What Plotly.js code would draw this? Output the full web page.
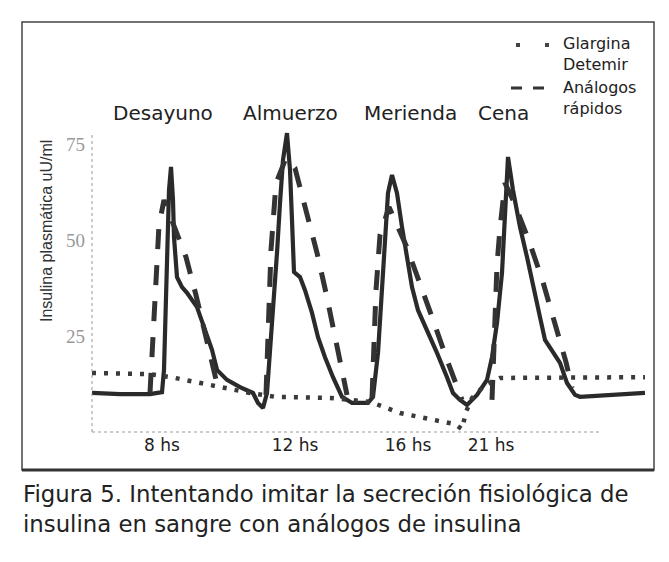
<!DOCTYPE html>
<html>
<head>
<meta charset="utf-8">
<script src="https://cdn.plot.ly/plotly-3.0.1.min.js"></script>
<style>html,body{margin:0;padding:0;background:#fff}</style>
</head>
<body>
<div id="chart" style="width:669px;height:562px"></div>
<script>
// time axis in arbitrary drawing units (the original is a schematic, not to hour scale)
var mealTimes = ['8 hs', '12 hs', '16 hs', '21 hs'];
var mealTimePos = [14, 40.6, 63.2, 79.8];
var meals = ['Desayuno', 'Almuerzo', 'Merienda', 'Cena'];
var mealLabelPos = [14.2, 39.6, 63.6, 82.2];
var yTicks = [25, 50, 75];

// physiological secretion (solid)
var physT = [0,5.6,11.6,14,14.4,14.6,14.8,15,15.4,15.8,16.2,16.4,17,18,19,21,22.6,24,25,27,29.6,32.2,33.2,34.2,35,35.6,36.2,37,37.6,38.2,39,39.6,40,40.4,41.6,42.6,44,45.2,46.6,48.2,50,52,55.2,56.2,57.2,57.8,58.6,59.2,60,61,62,63,64,65.2,67,69,71,72.2,73.6,75,77,79,80,81,82,82.6,83,83.2,84.2,85.6,87,88.2,89.6,90.6,92.2,93.6,95,96.6,97.6,103.6,110.6];
var physV = [10.4,10.1,10.1,10.6,16.4,26.8,39.7,52.7,63.1,69.1,60.5,50.9,40.5,37.9,36.4,32.7,26.8,21.6,16.4,13.8,11.9,10.4,7.8,6.5,10.4,20.8,33.8,46.8,59.7,70.9,77.9,68.3,55.3,41.8,40.5,37.1,31.2,24.9,19.7,14.5,9.4,7.8,7.8,9.4,20.8,34.5,49.4,62.3,67.0,62.3,53.5,44.9,37.9,31.9,26.8,20.8,14.5,10.4,8.6,7.3,9.9,13.8,19.7,28.6,41.6,54.5,67.5,71.7,63.1,53.5,45.7,39.0,30.1,24.2,20.8,18.2,13.0,9.9,9.4,9.9,10.4];

// rapid-acting analogues (dashed), one bolus per meal
var rapidT = [11.6,12.2,12.8,13.4,14.4,16,18.8,20.8,23,25.2,null,
              34.8,35.2,35.8,36.8,38.8,40.6,43,45,46.8,48.6,50.2,51,null,
              56,56.4,56.8,57.6,59.4,62.8,65.6,68.2,71,73.2,74,null,
              80,80.4,81,81.6,82.6,84.2,87.4,90.2,92.6,94.8,96];
var rapidV = [10.4,26.8,42.3,54.0,60.5,55.3,45.7,35.8,24.2,11.7,null,
              9.9,29.4,47.5,64.9,71.4,68.8,57.1,46.8,36.4,25.5,14.5,9.9,null,
              9.1,22.9,37.1,51.4,58.7,48.8,39.2,29.4,19.0,11.2,8.6,null,
              8.6,26.8,43.6,53.2,64.9,60.5,49.9,39.2,28.8,18.4,11.7];

// basal (Glargina / Detemir), dotted
var basalT = [0,11.6,16.6,21.6,26.6,31.6,36.6,47.6,55.6,58.6,61.6,67.6,72.6,74,74.8,76,78.6,81.6,110.6];
var basalV = [15.6,15.3,14.3,13.0,11.7,10.4,9.4,9.1,8.1,6.8,5.2,3.6,2.3,1.0,5.5,9.1,12.5,14.3,14.5];

var traces = [
  {x: physT, y: physV, type: 'scatter', mode: 'lines', name: 'Secreción fisiológica',
   line: {color: '#2a2a2a', width: 4.2}, showlegend: false, hoverinfo: 'skip'},
  {x: rapidT, y: rapidV, type: 'scatter', mode: 'lines', name: 'Análogos rápidos',
   line: {color: '#333', width: 5, dash: '20px,16px'}, connectgaps: false, showlegend: false, hoverinfo: 'skip'},
  {x: basalT, y: basalV, type: 'scatter', mode: 'lines', name: 'Glargina Detemir',
   line: {color: '#3a3a3a', width: 4.5, dash: '4px,8px'}, showlegend: false, hoverinfo: 'skip'}
];

var PL = 92, PB = 433, PW = 553, PH = 308;
function px(x) { return (x - PL) / PW; }
function py(y) { return (PB - y) / PH; }

var annotations = [];
for (var i = 0; i < meals.length; i++) {
  annotations.push({x: mealLabelPos[i], xref: 'x', y: py(113), yref: 'paper', text: meals[i],
    showarrow: false, xanchor: 'center', yanchor: 'middle',
    font: {family: 'DejaVu Sans', size: 20, color: '#222'}});
}
annotations.push({x: px(561), xref: 'paper', y: py(54.5), yref: 'paper', text: 'Glargina<br>Detemir',
  showarrow: false, xanchor: 'left', yanchor: 'middle', align: 'left',
  font: {family: 'DejaVu Sans', size: 16, color: '#222'}});
annotations.push({x: px(561), xref: 'paper', y: py(98), yref: 'paper', text: 'Análogos<br>rápidos',
  showarrow: false, xanchor: 'left', yanchor: 'middle', align: 'left',
  font: {family: 'DejaVu Sans', size: 16, color: '#222'}});
annotations.push({x: px(46), xref: 'paper', y: py(231), yref: 'paper', text: 'Insulina plasmática uU/ml',
  showarrow: false, textangle: -90, xanchor: 'center', yanchor: 'middle',
  font: {family: 'Liberation Sans', size: 16, color: '#333'}});
annotations.push({x: px(21), xref: 'paper', y: py(509), yref: 'paper',
  text: 'Figura 5. Intentando imitar la secreción fisiológica de<br>insulina en sangre con análogos de insulina',
  showarrow: false, xanchor: 'left', yanchor: 'middle', align: 'left',
  font: {family: 'DejaVu Sans', size: 22.8, color: '#222'}});

var shapes = [
  // outer frame
  {type: 'rect', xref: 'paper', yref: 'paper', x0: px(22), x1: px(654), y0: py(470), y1: py(22),
   line: {color: '#444', width: 1.5}},
  {type: 'line', xref: 'paper', yref: 'paper', x0: px(22), x1: px(654), y0: py(470), y1: py(470),
   line: {color: '#333', width: 3}},
  // dotted axes
  {type: 'line', xref: 'paper', yref: 'paper', x0: 0, x1: 0, y0: py(432), y1: py(135),
   line: {color: '#999', width: 1, dash: 'dot'}},
  {type: 'line', xref: 'paper', yref: 'paper', x0: 0, x1: px(600), y0: py(432), y1: py(432),
   line: {color: '#999', width: 1, dash: 'dot'}},
  // legend samples
  {type: 'line', xref: 'paper', yref: 'paper', x0: px(516), x1: px(550), y0: py(45), y1: py(45),
   line: {color: '#444', width: 4, dash: '4px,25px'}},
  {type: 'line', xref: 'paper', yref: 'paper', x0: px(511), x1: px(545), y0: py(88), y1: py(88),
   line: {color: '#333', width: 3, dash: '11px,11px'}}
];

var layout = {
  width: 669, height: 562,
  margin: {l: PL, r: 669 - PL - PW, t: PB - PH, b: 562 - PB, pad: 0},
  paper_bgcolor: '#ffffff', plot_bgcolor: 'rgba(0,0,0,0)',
  showlegend: false,
  xaxis: {range: [0, 110.6], showgrid: false, zeroline: false, showline: false,
    tickmode: 'array', tickvals: mealTimePos, ticktext: mealTimes, ticks: '',
    tickfont: {family: 'DejaVu Sans', size: 17, color: '#222'}, fixedrange: true},
  yaxis: {range: [0, 80], showgrid: false, zeroline: false, showline: false,
    tickmode: 'array', tickvals: yTicks, ticks: '', ticklabelstandoff: 6,
    tickfont: {family: 'Liberation Serif', size: 19, color: '#999'}, fixedrange: true},
  annotations: annotations,
  shapes: shapes
};

Plotly.newPlot('chart', traces, layout, {displayModeBar: false, staticPlot: true});
</script>
</body>
</html>
